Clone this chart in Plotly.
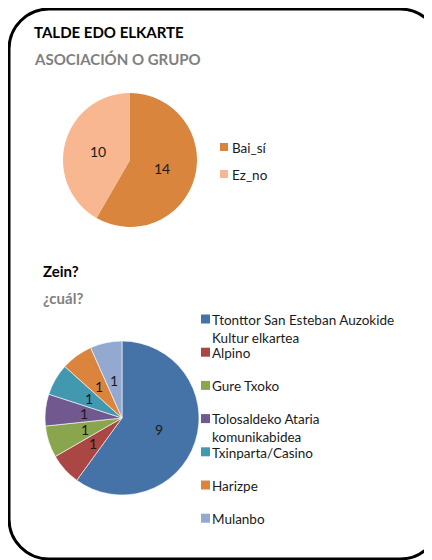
import math
import plotly.graph_objects as go

W, H = 432, 560
OFF = 8            # the page body has an 8px margin; the figure is shifted by it
FONT = "Lato"

# ---- data ----
title1 = "TALDE EDO ELKARTE"
subtitle1 = "ASOCIACIÓN O GRUPO"
labels1 = ["Bai_sí", "Ez_no"]
values1 = [14, 10]
colors1 = ["#D9853E", "#F9B791"]

title2 = "Zein?"
subtitle2 = "¿cuál?"
labels2 = ["Ttonttor San Esteban Auzokide<br>Kultur elkartea", "Alpino", "Gure Txoko",
           "Tolosaldeko Ataria<br>komunikabidea", "Txinparta/Casino", "Harizpe", "Mulanbo"]
values2 = [9, 1, 1, 1, 1, 1, 1]
colors2 = ["#4572A7", "#AA4643", "#89A54E", "#71588F", "#4198AF", "#DB843D", "#93A9CF"]

FW, FH = W - OFF, H - OFF


def px(x):
    return (x - OFF) / FW


def py(y):
    return 1 - (y - OFF) / FH


fig = go.Figure()
annotations = []
shapes = []


def add_pie(labels, values, colors, cx, cy, r, linew):
    dom = dict(x=[px(cx - r), px(cx + r)], y=[py(cy + r), py(cy - r)])
    fig.add_trace(go.Pie(
        labels=labels, values=values, sort=False, direction="clockwise", rotation=0,
        marker=dict(colors=colors, line=dict(color="white", width=linew)),
        textinfo="none", domain=dom, showlegend=False, hoverinfo="label+value",
    ))
    # value labels at half radius on each slice's bisector (Excel "center" labels)
    total = sum(values)
    cum = 0
    for v in values:
        ang = math.radians((cum + v / 2) / total * 360)
        cum += v
        lx = cx + 0.5 * r * math.sin(ang)
        ly = cy - 0.5 * r * math.cos(ang)
        annotations.append(dict(text=str(v), x=px(lx), y=py(ly), xref="paper", yref="paper",
                                xanchor="center", yanchor="middle", showarrow=False, borderpad=0,
                                font=dict(family=FONT, size=14, color="#1a1a1a")))


add_pie(labels1, values1, colors1, 130, 160, 67, 0)
add_pie(labels2, values2, colors2, 122, 418, 77, 0.6)

# titles
for text, x, y, color in [(title1, 33, 32, "#000000"), (subtitle1, 33, 59, "#7f7f7f"),
                          (title2, 42, 271, "#000000"), (subtitle2, 42, 298, "#7f7f7f")]:
    annotations.append(dict(text="<b>%s</b>" % text, x=px(x), y=py(y), xref="paper", yref="paper",
                            xanchor="left", yanchor="middle", showarrow=False, borderpad=0,
                            font=dict(family=FONT, size=15, color=color)))


# legends
LFS = 13.5


def legend(labels, colors, mx, tx, y0, step, size):
    lh = LFS * 1.3
    for i, (lab, col) in enumerate(zip(labels, colors)):
        yc = y0 + i * step
        shapes.append(dict(type="rect", xref="paper", yref="paper",
                           x0=px(mx), x1=px(mx + size), y0=py(yc - size / 2), y1=py(yc + size / 2),
                           fillcolor=col, line=dict(width=0)))
        annotations.append(dict(text=lab, x=px(tx), y=py(yc - lh / 2 + 1.6), xref="paper", yref="paper",
                                xanchor="left", yanchor="top", align="left", showarrow=False,
                                borderpad=0, borderwidth=0,
                                font=dict(family=FONT, size=LFS, color="#1a1a1a")))


legend(labels1, colors1, 220, 232, 147, 27, 8)
legend(labels2, colors2, 201, 212, 319, 33.2, 9)

# rounded frame
x0, y0, x1, y1, r = 9, 9, 440, 559, 40
k = 0.5523 * r
pts = [
    ("M", [(x0 + r, y0)]),
    ("L", [(x1 - r, y0)]),
    ("C", [(x1 - r + k, y0), (x1, y0 + r - k), (x1, y0 + r)]),
    ("L", [(x1, y1 - r)]),
    ("C", [(x1, y1 - r + k), (x1 - r + k, y1), (x1 - r, y1)]),
    ("L", [(x0 + r, y1)]),
    ("C", [(x0 + r - k, y1), (x0, y1 - r + k), (x0, y1 - r)]),
    ("L", [(x0, y0 + r)]),
    ("C", [(x0, y0 + r - k), (x0 + r - k, y0), (x0 + r, y0)]),
]
path = " ".join(cmd + " " + " ".join("%.5f,%.5f" % (px(a), py(b)) for a, b in p) for cmd, p in pts) + " Z"
shapes.append(dict(type="path", path=path, xref="paper", yref="paper",
                   line=dict(color="black", width=3), fillcolor="rgba(0,0,0,0)"))

fig.update_layout(
    width=FW, height=FH, margin=dict(l=0, r=0, t=0, b=0),
    paper_bgcolor="white", plot_bgcolor="white",
    annotations=annotations, shapes=shapes,
    font=dict(family=FONT),
)

fig.write_html("out.html")
